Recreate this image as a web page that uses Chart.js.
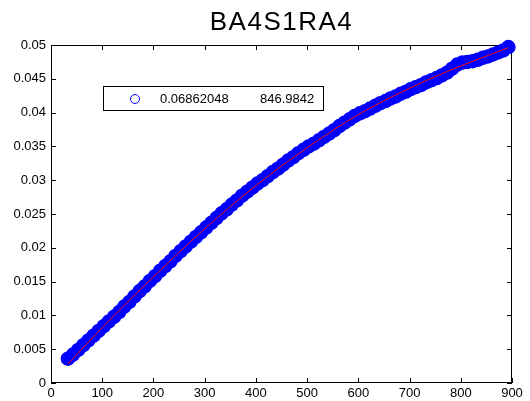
<!DOCTYPE html>
<html>
<head>
<meta charset="utf-8">
<script src="https://cdn.jsdelivr.net/npm/chart.js@4.4.1/dist/chart.umd.min.js"></script>
<style>
  html, body { margin: 0; padding: 0; background: #fff; }
</style>
</head>
<body>
<canvas id="myChart" width="530" height="401"></canvas>
<script>
const titleText = 'BA4S1RA4';
const legendLabels = ['0.06862048', '846.9842'];

// measured points
const xs = [
    33, 43, 53, 63, 73, 83, 93, 103, 113, 123,
    133, 143, 153, 163, 173, 183, 193, 203, 213, 223,
    233, 243, 253, 263, 273, 283, 293, 303, 313, 323,
    333, 343, 353, 363, 373, 383, 393, 403, 413, 423,
    433, 443, 453, 463, 473, 483, 493, 503, 513, 523,
    533, 543, 553, 563, 573, 583, 593, 603, 613, 623,
    633, 643, 653, 663, 673, 683, 693, 703, 713, 723,
    733, 743, 753, 763, 773, 783, 793, 803, 813, 823,
    833, 843, 853, 863, 873, 883, 893,
];
const ys = [
    0.0036, 0.0042, 0.0049, 0.0056, 0.0063, 0.0070, 0.0077, 0.0084, 0.0091, 0.0098,
    0.0105, 0.0113, 0.0120, 0.0128, 0.0136, 0.0143, 0.0151, 0.0158, 0.0166, 0.0173,
    0.0180, 0.0188, 0.0195, 0.0202, 0.0209, 0.0216, 0.0223, 0.0230, 0.0237, 0.0244,
    0.0251, 0.0257, 0.0264, 0.0270, 0.0277, 0.0283, 0.0289, 0.0295, 0.0300, 0.0306,
    0.0312, 0.0317, 0.0323, 0.0329, 0.0334, 0.0340, 0.0345, 0.0350, 0.0354, 0.0359,
    0.0364, 0.0369, 0.0374, 0.0380, 0.0385, 0.0390, 0.0395, 0.0399, 0.0402, 0.0406,
    0.0410, 0.0414, 0.0417, 0.0421, 0.0424, 0.0428, 0.0431, 0.0435, 0.0438, 0.0441,
    0.0445, 0.0448, 0.0451, 0.0455, 0.0459, 0.0465, 0.0471, 0.0474, 0.0475, 0.0476,
    0.0478, 0.0481, 0.0483, 0.0486, 0.0489, 0.0492, 0.0497,
];

// fitted curve
const fitX = [33, 100, 200, 300, 400, 500, 600, 700, 800, 893];
const fitY = [0.0028, 0.0082, 0.0157, 0.0228, 0.0292, 0.0348, 0.0397, 0.0436, 0.0469, 0.0496];

const xMax = 900;
const yMax = 0.05;
const xStep = 100;
const yStep = 0.005;

const font = '"Liberation Sans", Arial, sans-serif';

// box, inward ticks, title and the little legend, matlab style
const axesBox = {
    id: 'axesBox',
    beforeDatasetsDraw(chart) {
        const { ctx, chartArea: a, scales } = chart;
        ctx.save();
        ctx.strokeStyle = '#000';
        ctx.lineWidth = 1;
        ctx.strokeRect(Math.round(a.left) + 0.5, Math.round(a.top) + 0.5,
            Math.round(a.right - a.left) - 1, Math.round(a.bottom - a.top) - 1);
        ctx.beginPath();
        scales.x.ticks.forEach(t => {
            const px = Math.round(scales.x.getPixelForValue(t.value)) + 0.5;
            ctx.moveTo(px, a.bottom); ctx.lineTo(px, a.bottom - 5);
            ctx.moveTo(px, a.top); ctx.lineTo(px, a.top + 5);
        });
        scales.y.ticks.forEach(t => {
            const py = Math.round(scales.y.getPixelForValue(t.value)) + 0.5;
            ctx.moveTo(a.left, py); ctx.lineTo(a.left + 5, py);
            ctx.moveTo(a.right, py); ctx.lineTo(a.right - 5, py);
        });
        ctx.stroke();
        ctx.restore();
    },
    afterDraw(chart) {
        const { ctx, chartArea: a } = chart;
        ctx.save();
        ctx.fillStyle = '#000';
        ctx.font = '26px ' + font;
        ctx.letterSpacing = '1.5px';
        ctx.textAlign = 'center';
        ctx.textBaseline = 'middle';
        ctx.fillText(titleText, (a.left + a.right) / 2, 23);
        ctx.letterSpacing = '0px';

        // legend
        ctx.fillStyle = '#fff';
        ctx.fillRect(103, 86, 220, 25);
        ctx.strokeStyle = '#000';
        ctx.lineWidth = 1;
        ctx.strokeRect(103.5, 86.5, 220, 24);
        ctx.strokeStyle = '#0000ff';
        ctx.beginPath();
        ctx.arc(135, 99, 4.5, 0, Math.PI * 2);
        ctx.stroke();
        ctx.fillStyle = '#000';
        ctx.font = '13px ' + font;
        ctx.textAlign = 'left';
        ctx.fillText(legendLabels[0], 160, 99);
        ctx.fillText(legendLabels[1], 260, 99);
        ctx.restore();
    }
};

const cts = document.querySelector('#myChart').getContext('2d');

const data = {
    datasets: [
        {
            label: 'fit',
            data: fitX.map((x, i) => ({ x, y: fitY[i] })),
            showLine: true,
            borderColor: '#ff0000',
            borderWidth: 1,
            pointRadius: 0,
            cubicInterpolationMode: 'monotone',
        },
        {
            label: legendLabels.join(' '),
            data: xs.map((x, i) => ({ x, y: ys[i] })),
            showLine: false,
            pointRadius: 6.5,
            pointBorderWidth: 1.5,
            borderColor: '#0000ff',
            backgroundColor: '#0000ff',
            clip: false,
        },
    ],
};

const tickFont = { family: font, size: 13 };

const config = {
    type: 'scatter',
    data: data,
    options: {
        responsive: false,
        animation: false,
        devicePixelRatio: 1,
        layout: { padding: { top: 45, right: 18, bottom: 0, left: 0 } },
        plugins: {
            legend: { display: false },
            tooltip: { enabled: false },
        },
        scales: {
            x: {
                type: 'linear',
                min: 0,
                max: xMax,
                grid: { display: false, drawTicks: false },
                border: { display: false },
                ticks: {
                    stepSize: xStep,
                    color: '#000',
                    font: tickFont,
                    padding: 3,
                    maxRotation: 0,
                    autoSkip: false,
                },
                afterFit(s) { s.height = 18; },
            },
            y: {
                min: 0,
                max: yMax,
                grid: { display: false, drawTicks: false },
                border: { display: false },
                ticks: {
                    stepSize: yStep,
                    color: '#000',
                    font: tickFont,
                    padding: 5,
                    autoSkip: false,
                    callback: v => String(+v.toFixed(3)),
                },
                afterFit(s) { s.width = 51; },
            },
        },
    },
    plugins: [axesBox],
};

const myChart = new Chart(cts, config);
</script>
</body>
</html>
